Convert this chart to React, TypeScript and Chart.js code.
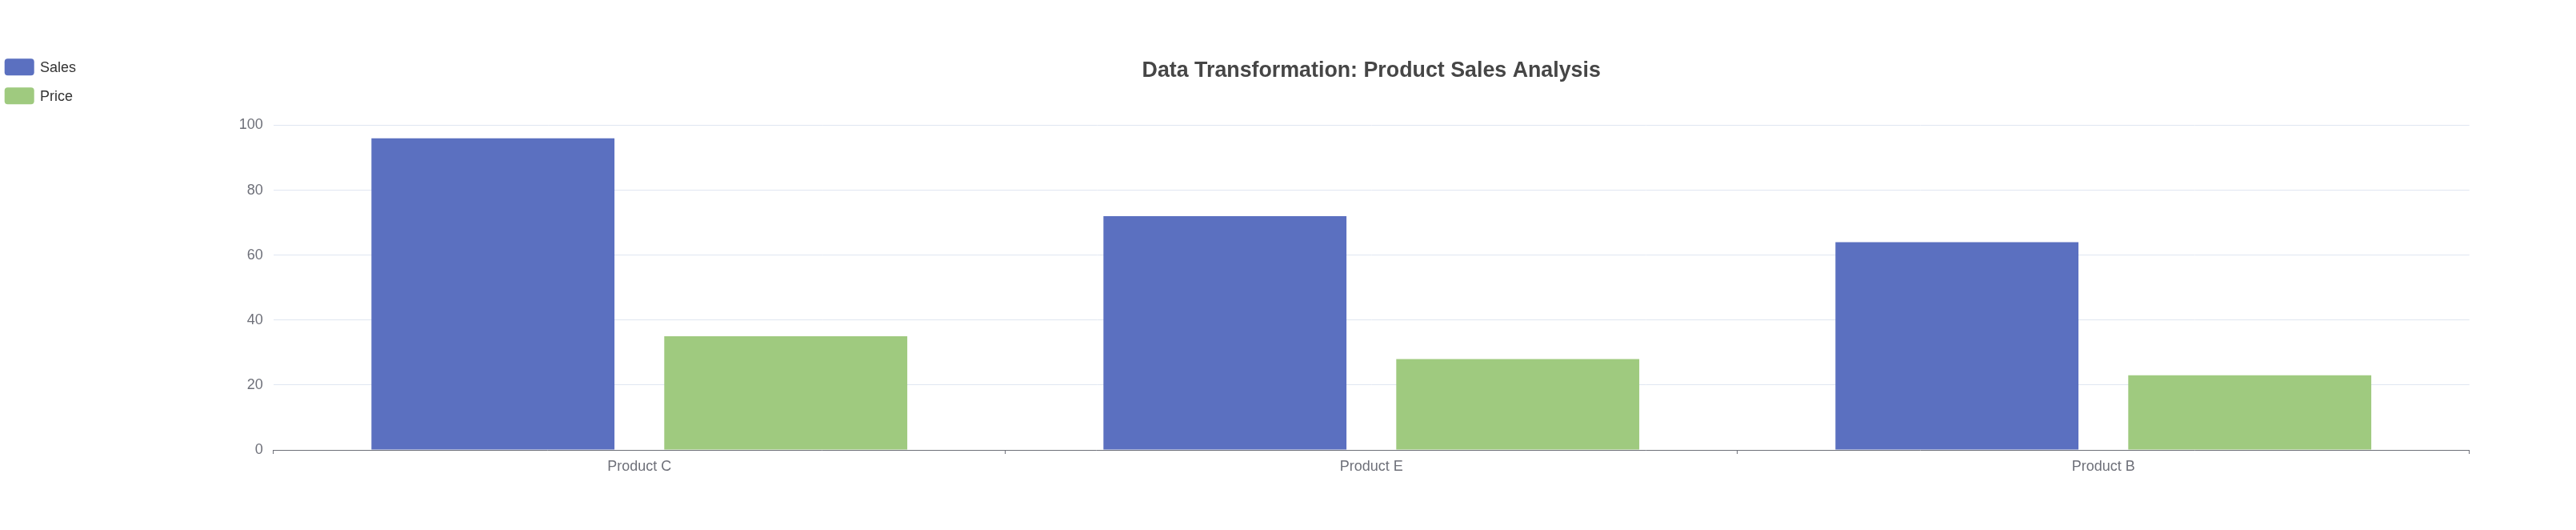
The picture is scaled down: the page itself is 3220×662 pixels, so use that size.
import React, { useEffect, useRef } from "react";
import { Chart, registerables } from "chart.js";

Chart.register(...registerables);

const categories = ["Product C", "Product E", "Product B"];
const seriesNames = ["Sales", "Price"];
const salesValues = [96, 72, 64];
const priceValues = [35, 28, 23];
const yTickValues = [0, 20, 40, 60, 80, 100];
const seriesColors = ["#5b70c0", "#9fca7f"];
const titleText = "Data Transformation: Product Sales Analysis";

const FONT = "'Liberation Sans', Arial, Helvetica, sans-serif";

const legendPlugin = {
  id: "customLegend",
  afterDraw(chart: any) {
    const ctx = chart.ctx;
    ctx.save();
    seriesNames.forEach((name, i) => {
      const y = 73.3 + i * 36;
      ctx.fillStyle = seriesColors[i];
      ctx.beginPath();
      (ctx as any).roundRect(5.7, y, 37, 21, 4);
      ctx.fill();
      ctx.fillStyle = "#333333";
      ctx.font = `18px ${FONT}`;
      ctx.textBaseline = "middle";
      ctx.textAlign = "left";
      ctx.fillText(name, 50, y + 12);
    });
    ctx.restore();
  },
};

export default function App() {
  const ref = useRef<HTMLCanvasElement | null>(null);
  useEffect(() => {
    document.body.style.margin = "0";
    const canvas = ref.current!;
    const chart = new Chart(canvas, {
      type: "bar",
      data: {
        labels: categories,
        datasets: [
          { label: seriesNames[0], data: salesValues, backgroundColor: seriesColors[0], borderWidth: 0 },
          { label: seriesNames[1], data: priceValues, backgroundColor: seriesColors[1], borderWidth: 0 },
        ],
      },
      plugins: [legendPlugin],
      options: {
        animation: false,
        responsive: false,
        maintainAspectRatio: false,
        devicePixelRatio: 1,
        layout: { padding: { left: 0, right: 133.3, top: 0, bottom: 0 } },
        datasets: { bar: { categoryPercentage: 0.8, barPercentage: 0.83 } },
        plugins: {
          legend: { display: false },
          tooltip: { enabled: false },
          title: {
            display: true,
            text: titleText,
            fullSize: false,
            align: "center",
            color: "#464646",
            font: { family: FONT, size: 26.8, weight: "bold", lineHeight: 1.2 },
            padding: { top: 73, bottom: 51.3 },
          },
        },
        scales: {
          x: {
            type: "category",
            offset: true,
            grid: {
              offset: true,
              drawOnChartArea: false,
              drawTicks: true,
              tickLength: 5,
              color: "#6E7079",
            },
            border: { display: true, color: "#6E7079", width: 1 },
            ticks: {
              color: "#6E7079",
              font: { family: FONT, size: 18 },
              padding: 5.5,
              maxRotation: 0,
              autoSkip: false,
            },
            afterFit: (scale: any) => {
              scale.height = 662 - 562;
            },
          },
          y: {
            min: 0,
            max: 100,
            grid: { color: "#E0E6F1", lineWidth: 1, drawTicks: false },
            border: { display: false },
            ticks: {
              color: "#6E7079",
              font: { family: FONT, size: 18 },
              padding: 13,
              stepSize: 20,
            },
            afterBuildTicks: (scale: any) => {
              scale.ticks = yTickValues.map((v) => ({ value: v }));
            },
            afterFit: (scale: any) => {
              scale.width = 341.7;
            },
          },
        },
      } as any,
    });
    return () => chart.destroy();
  }, []);
  return (
    <div style={{ width: 3220, height: 662 }}>
      <canvas ref={ref} width={3220} height={662} style={{ display: "block", width: 3220, height: 662 }} />
    </div>
  );
}
